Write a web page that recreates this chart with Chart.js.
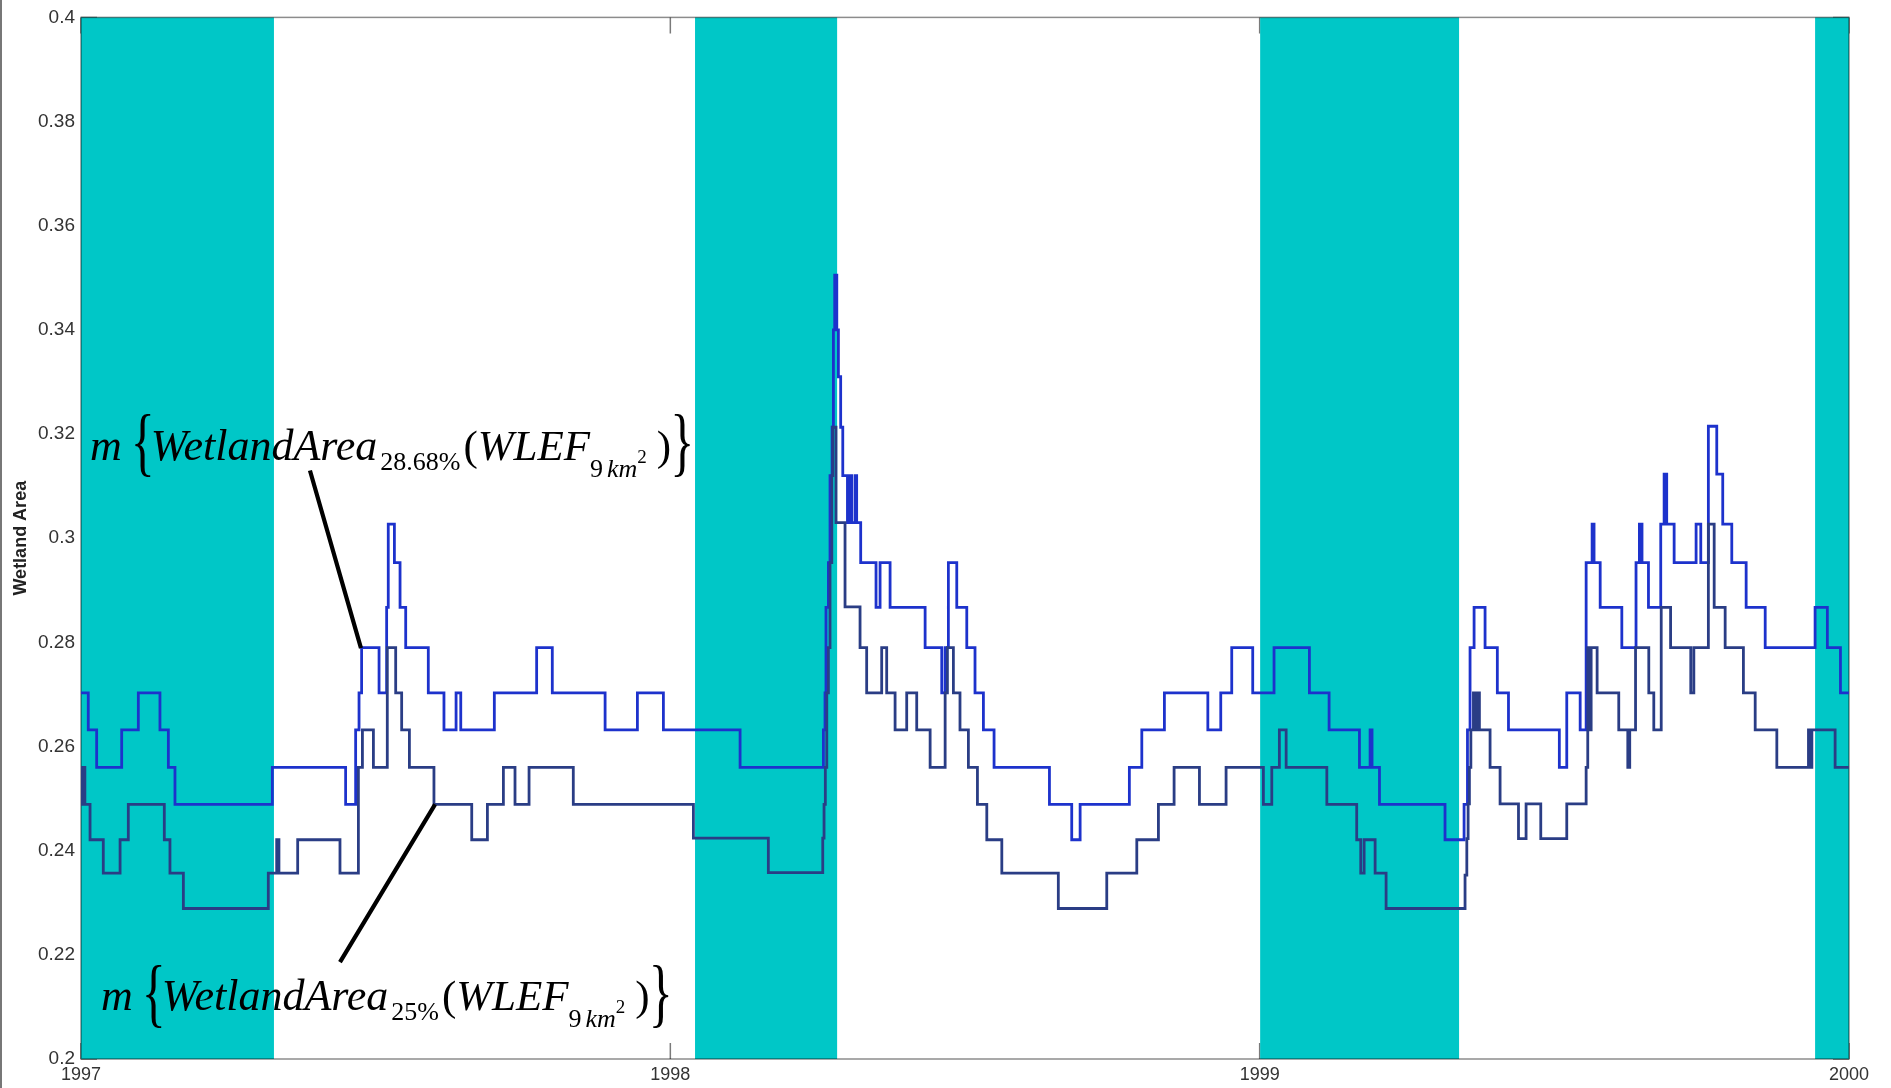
<!DOCTYPE html>
<html>
<head>
<meta charset="utf-8">
<title>Wetland Area</title>
<script src="https://cdn.jsdelivr.net/npm/chart.js@4.4.1/dist/chart.umd.min.js"></script>
<style>
  html, body { margin: 0; padding: 0; background: #fff; }
  #wrap { position: relative; width: 1891px; height: 1088px; overflow: hidden; }
  #frame { position: absolute; left: 0; top: 0; width: 2px; height: 1088px; background: #777; }
  canvas { display: block; }
</style>
</head>
<body>
<div id="wrap">
  <canvas id="chart" width="1891" height="1088"></canvas>
  <div id="frame"></div>
</div>
<script>
// Time axis: days counted from 1 January 1997.
const tickDays = [0, 365, 730, 1095];
const tickLabels = ['1997', '1998', '1999', '2000'];

// Shaded periods (start / end day).
const bandStart = [0, 380.3, 730.3, 1074.0];
const bandEnd = [119.5, 468.3, 853.5, 1095];

// m{WetlandArea 28.68%}: day at which each new value begins, and the value.
const days2868 = [
  0, 4.5, 9.7, 25.2, 35.5, 48.9, 54.1, 58.2, 118.5, 163.9,
  170.1, 172.2, 173.8, 184.6, 189.3, 190.3, 194.1, 197.6, 201.1, 215.1,
  224.8, 232.3, 235.2, 256.0, 282.2, 291.9, 324.6, 344.6, 360.7, 408.2,
  459.8, 460.8, 461.4, 462.9, 463.9, 465.2, 466.0, 466.8, 468.1, 469.1,
  470.5, 471.8, 474.7, 476.3, 477.3, 479.4, 480.4, 482.9, 492.4, 494.9,
  501.1, 522.8, 533.1, 535.2, 537.2, 542.4, 548.6, 553.7, 558.9, 565.5,
  599.8, 613.6, 618.8, 649.3, 657.0, 671.0, 697.9, 705.9, 712.7, 725.7,
  738.9, 760.8, 773.0, 791.8, 798.4, 799.6, 804.2, 844.8, 856.6, 858.7,
  860.3, 862.8, 869.6, 877.2, 884.1, 915.6, 920.2, 928.5, 932.2, 935.9,
  937.1, 940.9, 954.3, 963.1, 965.2, 966.8, 970.8, 978.4, 980.5, 982.1,
  986.7, 1000.3, 1003.2, 1007.9, 1013.1, 1016.8, 1022.4, 1031.3, 1043.1, 1074.0,
  1081.6, 1089.7, 1095
];
const area2868 = [
  0.2703, 0.2632, 0.2560, 0.2632, 0.2703, 0.2632, 0.2560, 0.2489, 0.2560, 0.2489,
  0.2632, 0.2703, 0.2790, 0.2703, 0.2867, 0.3027, 0.2953, 0.2867, 0.2790, 0.2703,
  0.2632, 0.2703, 0.2632, 0.2703, 0.2790, 0.2703, 0.2632, 0.2703, 0.2632, 0.2560,
  0.2632, 0.2703, 0.2867, 0.2953, 0.3120, 0.3213, 0.3400, 0.3505, 0.3400, 0.3310,
  0.3213, 0.3120, 0.3030, 0.3120, 0.3030, 0.3120, 0.3030, 0.2953, 0.2867, 0.2953,
  0.2867, 0.2790, 0.2703, 0.2790, 0.2953, 0.2867, 0.2790, 0.2703, 0.2632, 0.2560,
  0.2489, 0.2421, 0.2489, 0.2560, 0.2632, 0.2703, 0.2632, 0.2703, 0.2790, 0.2703,
  0.2790, 0.2703, 0.2632, 0.2560, 0.2632, 0.2560, 0.2489, 0.2421, 0.2489, 0.2632,
  0.2790, 0.2867, 0.2790, 0.2703, 0.2632, 0.2560, 0.2703, 0.2632, 0.2953, 0.3027,
  0.2953, 0.2867, 0.2790, 0.2953, 0.3027, 0.2953, 0.2867, 0.3027, 0.3123, 0.3027,
  0.2953, 0.3027, 0.2953, 0.3215, 0.3123, 0.3027, 0.2953, 0.2867, 0.2790, 0.2867,
  0.2790, 0.2703, 0.2703
];

// m{WetlandArea 25%}: day at which each new value begins, and the value.
const days25 = [
  0, 0.8, 1.6, 2.4, 5.6, 13.8, 24.2, 29.3, 51.6, 55.1,
  63.4, 116.0, 121.2, 122.6, 134.2, 160.4, 171.8, 174.3, 181.1, 189.7,
  194.9, 198.6, 203.4, 218.6, 242.0, 251.7, 261.6, 268.8, 277.5, 304.9,
  379.3, 425.7, 459.4, 460.2, 461.0, 461.9, 462.9, 463.9, 465.0, 465.6,
  467.6, 473.2, 482.5, 486.6, 495.9, 499.0, 504.2, 511.4, 517.6, 525.9,
  535.2, 536.6, 540.3, 544.4, 549.6, 555.2, 561.0, 570.3, 605.3, 635.3,
  653.9, 667.3, 677.0, 692.7, 709.2, 732.3, 737.5, 742.2, 746.4, 771.6,
  790.1, 792.6, 794.7, 801.5, 808.3, 857.2, 858.3, 859.1, 859.9, 860.8,
  862.4, 864.1, 864.9, 866.1, 872.7, 878.9, 890.3, 895.0, 904.1, 920.2,
  932.2, 933.2, 934.3, 935.3, 939.0, 952.4, 958.0, 959.2, 962.8, 971.0,
  974.1, 978.7, 984.5, 997.0, 998.9, 1007.9, 1011.5, 1018.3, 1029.6, 1036.9,
  1050.3, 1069.9, 1071.0, 1072.0, 1086.4, 1095
];
const area25 = [
  0.2560, 0.2489, 0.2560, 0.2489, 0.2421, 0.2357, 0.2421, 0.2489, 0.2421, 0.2357,
  0.2289, 0.2357, 0.2421, 0.2357, 0.2421, 0.2357, 0.2560, 0.2632, 0.2560, 0.2790,
  0.2703, 0.2632, 0.2560, 0.2489, 0.2421, 0.2489, 0.2560, 0.2489, 0.2560, 0.2489,
  0.2424, 0.2358, 0.2424, 0.2489, 0.2560, 0.2703, 0.2790, 0.2953, 0.3120, 0.3213,
  0.3030, 0.2868, 0.2790, 0.2703, 0.2790, 0.2703, 0.2632, 0.2703, 0.2632, 0.2560,
  0.2703, 0.2790, 0.2703, 0.2632, 0.2560, 0.2489, 0.2421, 0.2357, 0.2289, 0.2357,
  0.2421, 0.2489, 0.2560, 0.2489, 0.2560, 0.2489, 0.2560, 0.2632, 0.2560, 0.2489,
  0.2421, 0.2357, 0.2421, 0.2357, 0.2289, 0.2353, 0.2423, 0.2490, 0.2560, 0.2632,
  0.2703, 0.2632, 0.2703, 0.2632, 0.2560, 0.2490, 0.2423, 0.2490, 0.2423, 0.2490,
  0.2560, 0.2790, 0.2632, 0.2790, 0.2703, 0.2632, 0.2560, 0.2632, 0.2790, 0.2703,
  0.2632, 0.2867, 0.2790, 0.2703, 0.2790, 0.3027, 0.2867, 0.2790, 0.2703, 0.2632,
  0.2560, 0.2632, 0.2560, 0.2632, 0.2560, 0.2560
];

const toPoints = (xs, ys) => xs.map((d, i) => ({ x: d, y: ys[i] }));

const SERIF = '"Liberation Serif", "Times New Roman", Times, serif';
const SANS = '"Liberation Sans", Arial, Helvetica, sans-serif';

// Tall brace glyph stretched to span [top, bottom]; returns the right edge of its ink.
function drawBrace(ctx, ch, left, top, bottom) {
  ctx.save();
  ctx.font = '50px ' + SERIF;
  const m = ctx.measureText(ch);
  const asc = m.actualBoundingBoxAscent, desc = m.actualBoundingBoxDescent;
  const s = (bottom - top) / (asc + desc);
  ctx.translate(left + m.actualBoundingBoxLeft, top);
  ctx.scale(1, s);
  ctx.fillText(ch, 0, asc);
  ctx.restore();
  return left + m.actualBoundingBoxLeft + m.actualBoundingBoxRight;
}

// m{WetlandArea_sub(WLEF_{9 km^2})}
function drawFormula(ctx, x0, base, sub) {
  const big = 44, mid = 43, small = 26, tiny = 19;
  let cx = x0;
  const put = (txt, size, italic, dy) => {
    ctx.font = (italic ? 'italic ' : '') + size + 'px ' + SERIF;
    ctx.fillText(txt, cx, base + dy);
    cx += ctx.measureText(txt).width;
  };
  ctx.fillStyle = '#000';
  ctx.textAlign = 'left';
  ctx.textBaseline = 'alphabetic';
  put('m', big, true, 0);
  cx += 13;
  cx = drawBrace(ctx, '{', cx, base - 45, base + 20);
  put('WetlandArea', big, true, 0);
  cx += 3;
  put(sub, small, false, 10);
  cx += 3;
  put('(', mid, false, 0);
  put('WLEF', mid, true, 0);
  put('9', small, false, 17);
  cx += 4;
  put('km', small, true, 17);
  put('2', tiny, false, 3);
  cx += 10;
  put(')', mid, false, 0);
  cx += 3;
  drawBrace(ctx, '}', cx, base - 45, base + 20);
}

const decor = {
  id: 'decor',
  beforeDatasetsDraw(chart) {
    const { ctx, chartArea: a, scales: { x, y } } = chart;
    const TL = 16;
    ctx.save();
    // inward tick marks on all four sides
    ctx.strokeStyle = '#7a7a7a';
    ctx.lineWidth = 1.5;
    ctx.beginPath();
    tickDays.forEach(d => {
      const px = x.getPixelForValue(d);
      ctx.moveTo(px, a.bottom); ctx.lineTo(px, a.bottom - TL);
      ctx.moveTo(px, a.top); ctx.lineTo(px, a.top + TL);
    });
    y.ticks.forEach(t => {
      const py = y.getPixelForValue(t.value);
      ctx.moveTo(a.left, py); ctx.lineTo(a.left + TL, py);
      ctx.moveTo(a.right, py); ctx.lineTo(a.right - TL, py);
    });
    ctx.stroke();
    // shaded periods
    ctx.fillStyle = 'rgb(0,199,199)';
    bandStart.forEach((s, i) => {
      const x0 = x.getPixelForValue(s), x1 = x.getPixelForValue(bandEnd[i]);
      ctx.fillRect(x0, a.top, x1 - x0, a.bottom - a.top);
    });
    // axes box
    ctx.strokeStyle = 'rgba(0,0,0,0.45)';
    ctx.lineWidth = 1.5;
    ctx.strokeRect(a.left, a.top, a.right - a.left, a.bottom - a.top);
    ctx.restore();
  },
  afterDatasetsDraw(chart) {
    const { ctx, scales: { x, y } } = chart;
    ctx.save();
    // pointer lines from each label to its curve
    ctx.strokeStyle = '#000';
    ctx.lineWidth = 4.2;
    ctx.lineCap = 'butt';
    ctx.beginPath();
    ctx.moveTo(x.getPixelForValue(141.8), y.getPixelForValue(0.3130));
    ctx.lineTo(x.getPixelForValue(173.4), y.getPixelForValue(0.2789));
    ctx.moveTo(x.getPixelForValue(219.3), y.getPixelForValue(0.2489));
    ctx.lineTo(x.getPixelForValue(160.4), y.getPixelForValue(0.2186));
    ctx.stroke();
    drawFormula(ctx, x.getPixelForValue(5.6), y.getPixelForValue(0.3151), '28.68%');
    drawFormula(ctx, x.getPixelForValue(12.4), y.getPixelForValue(0.2094), '25%');
    ctx.restore();
  }
};

new Chart(document.getElementById('chart'), {
  type: 'line',
  data: {
    datasets: [
      {
        label: 'WetlandArea 25%',
        data: toPoints(days25, area25),
        borderColor: '#2a3d85',
        borderWidth: 2.8,
        stepped: true,
        pointRadius: 0,
        fill: false
      },
      {
        label: 'WetlandArea 28.68%',
        data: toPoints(days2868, area2868),
        borderColor: '#1d32cc',
        borderWidth: 2.8,
        stepped: true,
        pointRadius: 0,
        fill: false
      }
    ]
  },
  options: {
    responsive: false,
    animation: false,
    devicePixelRatio: 1,
    layout: { padding: { top: 15, right: 42, left: 0, bottom: 0 } },
    plugins: { legend: { display: false }, tooltip: { enabled: false } },
    scales: {
      x: {
        type: 'linear',
        min: 0,
        max: 1095,
        grid: { display: false, drawTicks: false },
        border: { display: false },
        afterBuildTicks(scale) { scale.ticks = tickDays.map(v => ({ value: v })); },
        afterFit(scale) { scale.height = 29; },
        ticks: {
          autoSkip: false,
          maxRotation: 0,
          padding: 5,
          color: '#333',
          font: { family: SANS, size: 18 },
          callback: (v, i) => tickLabels[i]
        }
      },
      y: {
        min: 0.2,
        max: 0.4,
        grid: { display: false, drawTicks: false },
        border: { display: false },
        afterFit(scale) { scale.width = 81; },
        ticks: {
          stepSize: 0.02,
          padding: 6,
          color: '#333',
          font: { family: SANS, size: 19 },
          callback: v => String(+v.toFixed(2))
        },
        title: {
          display: true,
          text: 'Wetland Area',
          color: '#222',
          font: { family: SANS, size: 18, weight: 'bold' },
          padding: { top: 10, bottom: 0 }
        }
      }
    }
  },
  plugins: [decor]
});
</script>
</body>
</html>
